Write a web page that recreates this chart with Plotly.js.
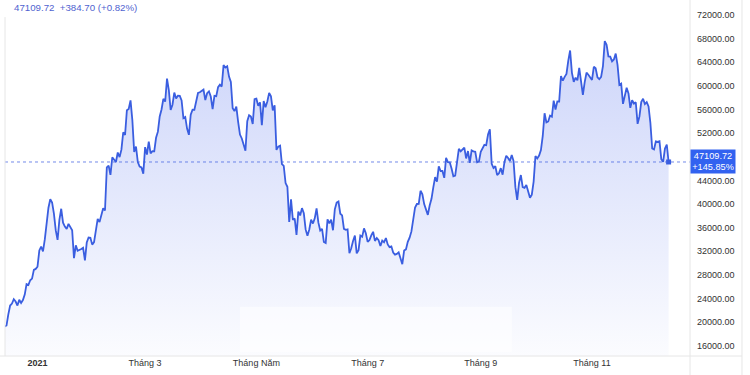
<!DOCTYPE html>
<html>
<head>
<meta charset="utf-8">
<script src="https://cdn.plot.ly/plotly-3.0.1.min.js"></script>
<style>html,body{margin:0;padding:0;background:#fff;}#chart{width:750px;height:375px;}</style>
</head>
<body>
<div id="chart"></div>
<script>
// Daily closing values (USD)
const dec2020 = [19246, 19417, 21310, 22806, 23132, 23869, 23477, 22803, 23783, 23241, 23735, 24664, 26437, 26272, 27084, 27362, 28841, 29002]; // from Dec 14
const jan2021 = [29374, 32127, 32782, 31971, 33992, 36824, 39371, 40797, 40254, 38356, 35566, 33923, 37316, 39187, 36825, 36178, 35792, 36630, 36069, 35547, 30825, 33005, 32067, 32289, 32366, 32569, 30432, 33466, 34316, 34269, 33114];
const feb2021 = [33538, 35510, 37473, 36926, 38144, 39266, 38903, 46196, 46481, 44919, 47909, 47504, 47105, 48717, 47945, 49199, 52149, 51679, 55888, 56099, 57539, 54207, 48824, 49705, 47093, 46339, 46188, 45137];
const mar2021 = [49631, 48378, 50538, 48561, 48927, 48912, 51206, 52246, 54824, 56008, 57805, 57332, 61243, 59302, 55907, 56804, 58870, 57858, 58346, 58313, 57523, 54529, 54738, 52774, 51704, 55137, 55974, 55948, 57750, 58800, 58918];
const apr2021 = [59095, 59384, 57603, 58758, 59057, 58192, 56048, 58323, 58245, 59793, 60204, 59893, 63503, 63109, 63314, 61572, 60683, 56216, 55724, 56473, 53906, 51763, 51093, 50050, 49004, 54021, 55033, 54824, 53555, 57750];
const may2021 = [57828, 56631, 57200, 53333, 57424, 56396, 57356, 58803, 58232, 55859, 56704, 49150, 49716, 49880, 46760, 46456, 43538, 42909, 36964, 40784, 37304, 37536, 34770, 38706, 38054, 39294, 38436, 35697, 34616, 35678, 37333];
const jun2021 = [36694, 37568, 39246, 36829, 35514, 35796, 33552, 33380, 37388, 36702, 37334, 35553, 39098, 40218, 40406, 38347, 38053, 35787, 35616, 35698, 31676, 32505, 33723, 34663, 31637, 32186, 34649, 34434, 35867, 35041];
const jul2021 = [33572, 33897, 34668, 35287, 33746, 34235, 33855, 32877, 33798, 33520, 34240, 33155, 32702, 32822, 31780, 31421, 31533, 31796, 30817, 29807, 32110, 32313, 33581, 34292, 35350, 37337, 39406, 39995, 40008, 42235, 41626];
const aug2021 = [39974, 39201, 38152, 39747, 40869, 42816, 44555, 43798, 46365, 45585, 45593, 44428, 47793, 47096, 47047, 46004, 44695, 44801, 46717, 49339, 48905, 49321, 49546, 47706, 48960, 46942, 49058, 48902, 48830, 47054, 47167];
const sep2021 = [48847, 49327, 50026, 49944, 51753, 52633, 46811, 46091, 46391, 44883, 45201, 46063, 44963, 47092, 48177, 47783, 47267, 48278, 47260, 42844, 40694, 43574, 44896, 42840, 42716, 43208, 42236, 41035, 41565, 43791];
const oct2021 = [48117, 47711, 48200, 49113, 51515, 55362, 53806, 53967, 54969, 54771, 57485, 56006, 57368, 57347, 61673, 60875, 61528, 62010, 64262, 65993, 62210, 60693, 61394, 60930, 63040, 60364, 58482, 60622, 62228, 61889, 61319];
const nov2021 = [61005, 63227, 62970, 61453, 61126, 61528, 63327, 67566, 66971, 64995, 64950, 64155, 64470, 65466, 63558, 60162, 60369, 56943, 58119, 59697, 58731, 56289, 57570, 57005, 57230, 53570, 54816, 57249, 57807, 56907];
const dec2021 = [57230, 56509, 53786, 49397, 49252, 50589, 50505, 50616, 47588, 47138, 49390, 50053, 47109.72];

const months = [
  {y: 2020, m: 12, first: 14, v: dec2020},
  {y: 2021, m: 1, first: 1, v: jan2021},
  {y: 2021, m: 2, first: 1, v: feb2021},
  {y: 2021, m: 3, first: 1, v: mar2021},
  {y: 2021, m: 4, first: 1, v: apr2021},
  {y: 2021, m: 5, first: 1, v: may2021},
  {y: 2021, m: 6, first: 1, v: jun2021},
  {y: 2021, m: 7, first: 1, v: jul2021},
  {y: 2021, m: 8, first: 1, v: aug2021},
  {y: 2021, m: 9, first: 1, v: sep2021},
  {y: 2021, m: 10, first: 1, v: oct2021},
  {y: 2021, m: 11, first: 1, v: nov2021},
  {y: 2021, m: 12, first: 1, v: dec2021}
];

const xTickVals = ['2021-01-01', '2021-03-01', '2021-05-01', '2021-07-01', '2021-09-01', '2021-11-01'];
const xTickText = ['<b>2021</b>', 'Tháng 3', 'Tháng Năm', 'Tháng 7', 'Tháng 9', 'Tháng 11'];
const headerText = '47109.72&nbsp;&nbsp;+384.70 (+0.82%)';
const lastLabel = '47109.72<br>+145.85%';
const lastPrice = 47109.72;

const pad = n => String(n).padStart(2, '0');
const dates = [], prices = [];
months.forEach(mo => {
  mo.v.forEach((val, i) => {
    dates.push(mo.y + '-' + pad(mo.m) + '-' + pad(mo.first + i));
    prices.push(val);
  });
});

const DAY = 86400000;
const jan1 = Date.UTC(2021, 0, 1);
const toStr = ms => new Date(ms).toISOString().replace('T', ' ').slice(0, 19);

const lineColor = '#3a5ee0';
const font = 'Liberation Sans, Arial, sans-serif';

const trace = {
  x: dates, y: prices, type: 'scatter', mode: 'lines',
  line: {color: lineColor, width: 1.8},
  fill: 'tozeroy',
  fillgradient: {type: 'vertical', start: 14000, stop: 68000,
    colorscale: [[0, 'rgba(70,100,235,0.02)'], [1, 'rgba(70,100,235,0.27)']]},
  hoverinfo: 'skip'
};
const endDot = {
  x: [dates[dates.length - 1]], y: [prices[prices.length - 1]], type: 'scatter', mode: 'markers',
  marker: {color: lineColor, size: 5, symbol: 'square'}, hoverinfo: 'skip'
};

const layout = {
  width: 750, height: 375,
  margin: {l: 5, r: 60, t: 0, b: 19},
  paper_bgcolor: '#fff', plot_bgcolor: '#fff',
  showlegend: false,
  xaxis: {
    type: 'date',
    range: [toStr(jan1 - 17.82 * DAY), toStr(jan1 + 357.73 * DAY)],
    tickvals: xTickVals, ticktext: xTickText,
    showgrid: false, zeroline: false, showline: false, ticks: '',
    tickfont: {family: font, size: 9, color: '#333'}
  },
  yaxis: {
    side: 'right',
    range: [14256, 74540],
    tick0: 16000, dtick: 4000, tickformat: '.2f',
    showgrid: false, zeroline: false, showline: false, ticks: '',
    ticklabelstandoff: 6,
    tickfont: {family: font, size: 9, color: '#333'}
  },
  shapes: [
    {type: 'line', xref: 'paper', yref: 'y', x0: 0, x1: 1, y0: lastPrice, y1: lastPrice,
     line: {color: 'rgba(70,100,225,0.75)', width: 1, dash: 'dot'}},
    {type: 'rect', xref: 'paper', yref: 'paper', x0: 0.343, x1: 0.740, y0: 0.011, y1: 0.138,
     fillcolor: 'rgba(255,255,255,0.5)', line: {width: 0}},
    {type: 'line', xref: 'paper', yref: 'paper', x0: 0, x1: 0, y0: 0, y1: 0.952,
     line: {color: '#e6e6e6', width: 1}},
    {type: 'line', xref: 'paper', yref: 'paper', x0: 1, x1: 1, y0: -0.06, y1: 1.1,
     line: {color: '#e6e6e6', width: 1}},
    {type: 'line', xref: 'paper', yref: 'paper', x0: 1.0759, x1: 1.0759, y0: -0.06, y1: 1.1,
     line: {color: '#e6e6e6', width: 1}},
    {type: 'line', xref: 'paper', yref: 'paper', x0: -0.01, x1: 1.0759, y0: 0, y1: 0,
     line: {color: '#e6e6e6', width: 1}}
  ],
  annotations: [
    {xref: 'paper', yref: 'paper', x: 0.0098, y: 0.9795, xanchor: 'left', yanchor: 'middle',
     text: headerText, showarrow: false, font: {family: font, size: 9.7, color: '#5063d0'}},
    {xref: 'paper', yref: 'y', x: 1, y: lastPrice, xanchor: 'left', yanchor: 'middle',
     text: lastLabel, showarrow: false, align: 'center', bgcolor: '#3262f0',
     width: 42, height: 21, borderpad: 1,
     font: {family: font, size: 9.2, color: '#fff'}}
  ]
};

Plotly.newPlot('chart', [trace, endDot], layout, {displayModeBar: false, staticPlot: true});
</script>
</body>
</html>
